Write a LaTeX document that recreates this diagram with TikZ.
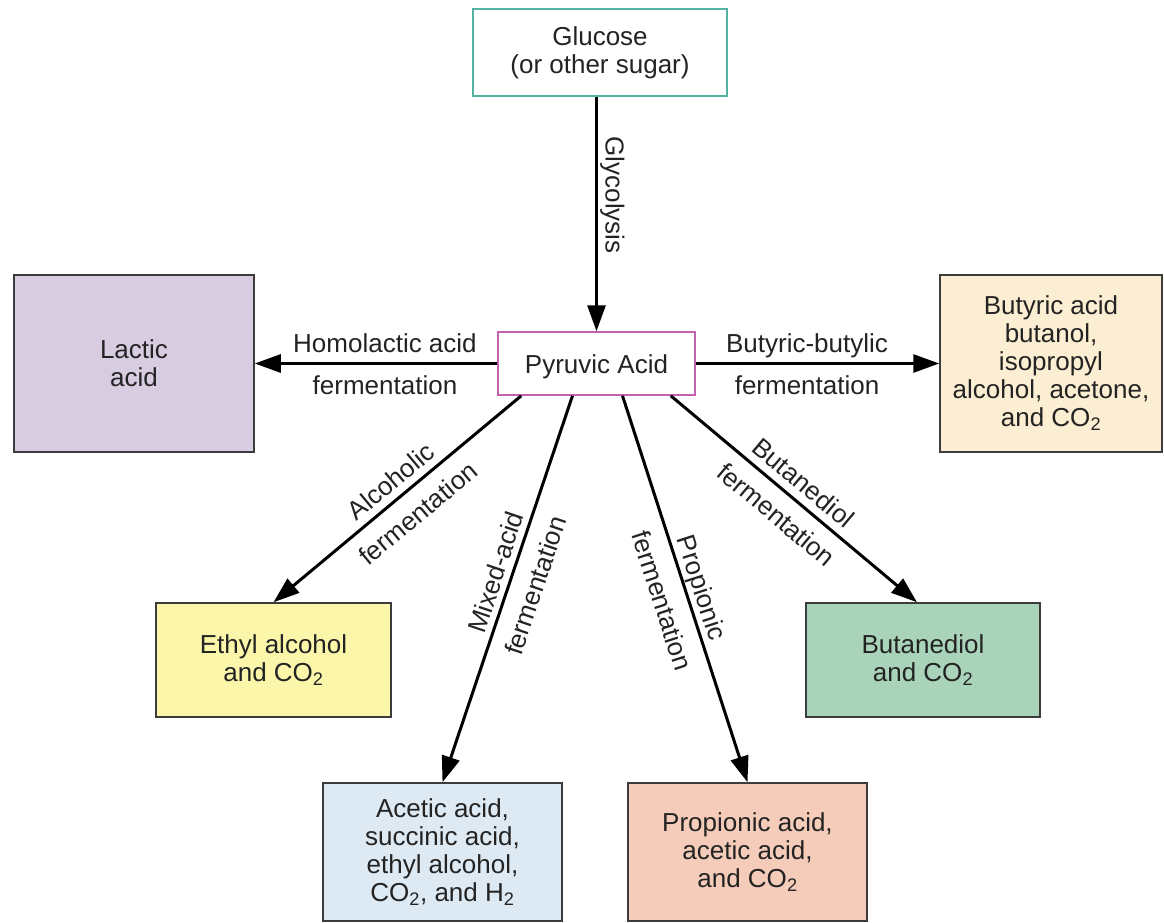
\documentclass[tikz,border=0pt]{standalone}
\usepackage{fontspec}
\setmainfont{Liberation Sans}
\usetikzlibrary{arrows.meta,calc}
\definecolor{glucoseedge}{RGB}{84,180,162}
\definecolor{pyruvicedge}{RGB}{196,96,176}
\definecolor{boxedge}{RGB}{60,60,60}
\definecolor{textgray}{RGB}{35,35,35}
\definecolor{lacfill}{RGB}{216,204,224}
\definecolor{butfill}{RGB}{252,238,210}
\definecolor{ethfill}{RGB}{251,246,170}
\definecolor{acefill}{RGB}{222,234,243}
\definecolor{profill}{RGB}{245,204,185}
\definecolor{bdofill}{RGB}{170,212,186}
\begin{document}
\begin{tikzpicture}[x=1pt,y=-1pt,
  txt/.style={font=\fontsize{26}{28}\selectfont, text=textgray, align=center},
  box/.style={txt, draw=boxedge, line width=1.5pt, inner sep=0pt},
  flow/.style={draw=black, line width=3pt, -{Triangle[length=26pt,width=18pt]}},
  lab/.style={font=\fontsize{26}{28}\selectfont, text=textgray, inner sep=0pt, text height=19pt, text depth=0pt},
]
\useasboundingbox (0,0) rectangle (1164,923);
\fill[white] (0,0) rectangle (1164,923);

% boxes
\node[box, draw=glucoseedge, minimum width=254pt, minimum height=87pt] (glu) at (600,52.5) {Glucose\\(or other sugar)};
\node[box, draw=pyruvicedge, minimum width=197pt, minimum height=63pt, text height=19pt, text depth=0pt] (pyr) at (596.5,363.5) {Pyruvic Acid};
\node[box, fill=lacfill, minimum width=240pt, minimum height=177pt] (lac) at (134,363.5) {Lactic\\acid};
\node[box, fill=butfill, minimum width=222pt, minimum height=177pt] (but) at (1051,363.5) {Butyric acid\\butanol,\\isopropyl\\alcohol, acetone,\\and CO\textsubscript{2}};
\node[box, fill=ethfill, minimum width=235pt, minimum height=114pt] (eth) at (273.5,660) {Ethyl alcohol\\and CO\textsubscript{2}};
\node[box, fill=acefill, minimum width=239pt, minimum height=138pt] (ace) at (442.5,852) {Acetic acid,\\succinic acid,\\ethyl alcohol,\\CO\textsubscript{2}, and H\textsubscript{2}};
\node[box, fill=profill, minimum width=239pt, minimum height=138pt] (pro) at (747.5,852) {Propionic acid,\\acetic acid,\\and CO\textsubscript{2}};
\node[box, fill=bdofill, minimum width=234pt, minimum height=114pt] (bdo) at (923,660) {Butanediol\\and CO\textsubscript{2}};

% connectors
\draw[flow] (glu.south -| pyr.north) -- node[lab, rotate=-90, anchor=south, outer ysep=9pt, pos=0.42] (glylab) {Glycolysis} (pyr.north);

\draw[flow] (pyr.west) -- node[lab, above=10pt, pos=0.463] (homolab) {Homolactic acid} node[lab, below=10pt, pos=0.463] (homolab2) {fermentation} (lac.east |- pyr.west);

\draw[flow] (pyr.east) -- node[lab, above=10pt, pos=0.457] (bublab) {Butyric-butylic} node[lab, below=10pt, pos=0.457] (bublab2) {fermentation} (but.west |- pyr.east);

\draw[flow] ([xshift=24pt]pyr.south west) -- node[lab, sloped, above=7pt, pos=0.48] (alclab) {Alcoholic} node[lab, sloped, below=13pt, pos=0.48] (alclab2) {fermentation} (eth.north);

\draw[flow] ([xshift=-24pt]pyr.south) -- node[lab, sloped, above=6pt, pos=0.47] (mixlab) {Mixed-acid} node[lab, sloped, below=14pt, pos=0.47] (mixlab2) {fermentation} (ace.north);

\draw[flow] ([xshift=26pt]pyr.south) -- node[lab, sloped, above=6pt, pos=0.51] (prolab) {Propionic} node[lab, sloped, below=14pt, pos=0.51] (prolab2) {fermentation} (pro.north);

\draw[flow] ([xshift=-25pt]pyr.south east) -- node[lab, sloped, above=8pt, pos=0.49] (bdolab) {Butanediol} node[lab, sloped, below=12pt, pos=0.49] (bdolab2) {fermentation} ([xshift=-6pt]bdo.north);
\end{tikzpicture}
\end{document}
